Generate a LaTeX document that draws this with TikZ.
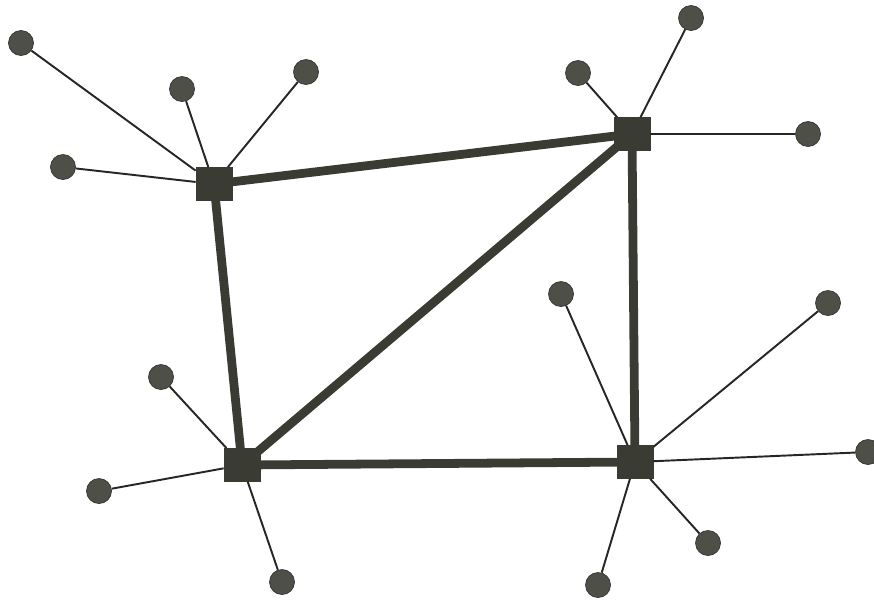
\documentclass[tikz,border=0pt]{standalone}
\usepackage{tikz}
\usetikzlibrary{backgrounds}
\usepackage{xcolor}
\definecolor{hubgray}{RGB}{58,60,52}
\tikzset{
  hub/.style={draw=hubgray, fill=hubgray, rectangle, minimum width=0.72cm, minimum height=0.66cm, inner sep=0pt},
  leaf/.style={draw=black!80, fill=hubgray!90, circle, minimum size=0.5cm, inner sep=0pt},
  trunk/.style={draw=hubgray, line width=5pt},
  spoke/.style={draw=black!85, line width=1.1pt}
}
\begin{document}
\begin{tikzpicture}[x=0.02cm, y=-0.02cm]
  \useasboundingbox (0,0) rectangle (874,599);

  % hubs
  \node[hub] (hA) at (214,184) {};
  \node[hub] (hB) at (632,134) {};
  \node[hub] (hC) at (242,465) {};
  \node[hub] (hD) at (635,462) {};

  % leaves
  \node[leaf] (a1) at (21,43) {};
  \node[leaf] (a2) at (182,89) {};
  \node[leaf] (a3) at (306,72) {};
  \node[leaf] (a4) at (63,167) {};

  \node[leaf] (b1) at (578,73) {};
  \node[leaf] (b2) at (691,18) {};
  \node[leaf] (b3) at (808,134) {};

  \node[leaf] (c1) at (161,377) {};
  \node[leaf] (c2) at (99,491) {};
  \node[leaf] (c3) at (282,582) {};

  \node[leaf] (d1) at (561,294) {};
  \node[leaf] (d2) at (828,303) {};
  \node[leaf] (d3) at (868,452) {};
  \node[leaf] (d4) at (708,543) {};
  \node[leaf] (d5) at (598,585) {};

  % backbone
  \begin{scope}[on background layer]
    \draw[trunk] (hA.center) -- (hB.center);
    \draw[trunk] (hA.center) -- (hC.center);
    \draw[trunk] (hB.center) -- (hC.center);
    \draw[trunk] (hB.center) -- (hD.center);
    \draw[trunk] (hC.center) -- (hD.center);
  \end{scope}

  % spokes
  \draw[spoke] (hA) -- (a1);
  \draw[spoke] (hA) -- (a2);
  \draw[spoke] (hA) -- (a3);
  \draw[spoke] (hA) -- (a4);
  \draw[spoke] (hB) -- (b1);
  \draw[spoke] (hB) -- (b2);
  \draw[spoke] (hB) -- (b3);
  \draw[spoke] (hC) -- (c1);
  \draw[spoke] (hC) -- (c2);
  \draw[spoke] (hC) -- (c3);
  \draw[spoke] (hD) -- (d1);
  \draw[spoke] (hD) -- (d2);
  \draw[spoke] (hD) -- (d3);
  \draw[spoke] (hD) -- (d4);
  \draw[spoke] (hD) -- (d5);
\end{tikzpicture}
\end{document}
